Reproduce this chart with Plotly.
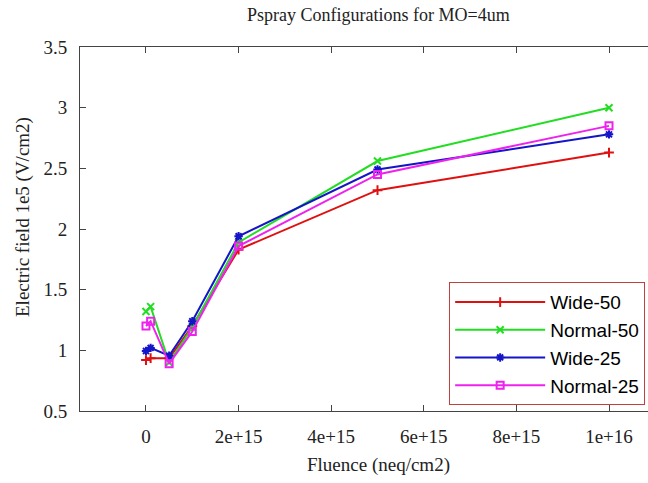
import plotly.graph_objects as go

# Fluence points (neq/cm2) and electric field (1e5 V/cm2) for each configuration
fluence = [0, 1e14, 5e14, 1e15, 2e15, 5e15, 1e16]
wide_50 = [0.92, 0.935, 0.935, 1.20, 1.83, 2.32, 2.63]
normal_50 = [1.32, 1.36, 0.90, 1.19, 1.89, 2.56, 3.00]
wide_25 = [0.995, 1.02, 0.955, 1.24, 1.94, 2.49, 2.78]
normal_25 = [1.20, 1.24, 0.89, 1.155, 1.86, 2.45, 2.85]

series_names = ["Wide-50", "Normal-50", "Wide-25", "Normal-25"]
series_values = [wide_50, normal_50, wide_25, normal_25]
colors = ["#e01010", "#22dd22", "#1414c8", "#ee22ee"]
symbols = ["cross-thin", "x-thin", "asterisk", "square-open"]

x_tick_vals = [0, 2e15, 4e15, 6e15, 8e15, 1e16]
x_tick_text = ["0", "2e+15", "4e+15", "6e+15", "8e+15", "1e+16"]
y_tick_vals = [0.5, 1, 1.5, 2, 2.5, 3, 3.5]
y_tick_text = ["0.5", "1", "1.5", "2", "2.5", "3", "3.5"]

W, H = 648, 483
ML, MR, MT, MB = 80, 0, 47, 72

serif = "Liberation Serif, Times New Roman, serif"
sans = "Liberation Sans, Arial, sans-serif"

fig = go.Figure()
for name, vals, col, sym in zip(series_names, series_values, colors, symbols):
    fig.add_trace(go.Scatter(
        x=fluence, y=vals, name=name, mode="lines+markers",
        line=dict(color=col, width=2),
        marker=dict(symbol=sym, size=7, color=col,
                    line=dict(color=col, width=2)),
    ))

axis_common = dict(
    showgrid=False, zeroline=False, showline=True, linecolor="#444444",
    linewidth=1, ticks="inside", ticklen=6, tickcolor="#444444",
    tickfont=dict(family=serif, size=19, color="#222222"),
)

fig.update_layout(
    width=W, height=H,
    margin=dict(l=ML, r=MR, t=MT, b=MB),
    paper_bgcolor="white", plot_bgcolor="white",
    showlegend=True,
    legend=dict(
        x=0.995, xanchor="right", y=0.016, yanchor="bottom",
        bgcolor="white", bordercolor="#c04040", borderwidth=1,
        font=dict(family=sans, size=19, color="black"),
        itemwidth=90, tracegroupgap=0,
    ),
    xaxis=dict(range=[-1.425e15, 1.0842e16], tickvals=x_tick_vals,
               ticktext=x_tick_text, mirror="ticks", ticklabelstandoff=8,
               **axis_common),
    yaxis=dict(range=[0.5, 3.5], tickvals=y_tick_vals,
               ticktext=y_tick_text, mirror=False, ticklabelstandoff=8,
               **axis_common),
    annotations=[
        dict(text="Pspray Configurations for MO=4um", xref="paper", yref="paper",
             x=(378 - ML) / (W - ML - MR), y=1 + (MT - 15) / (H - MT - MB),
             xanchor="center", yanchor="middle", showarrow=False,
             font=dict(family=serif, size=18, color="#222222")),
        dict(text="Fluence (neq/cm2)", xref="paper", yref="paper",
             x=(378 - ML) / (W - ML - MR), y=-(465 - (H - MB)) / (H - MT - MB),
             xanchor="center", yanchor="middle", showarrow=False,
             font=dict(family=serif, size=19, color="#222222")),
        dict(text="Electric field 1e5 (V/cm2)", xref="paper", yref="paper",
             x=-(ML - 23) / (W - ML - MR), y=(H - MB - 217) / (H - MT - MB),
             xanchor="center", yanchor="middle", textangle=-90, showarrow=False,
             font=dict(family=serif, size=19, color="#222222")),
    ],
)

fig.write_html("out.html")
